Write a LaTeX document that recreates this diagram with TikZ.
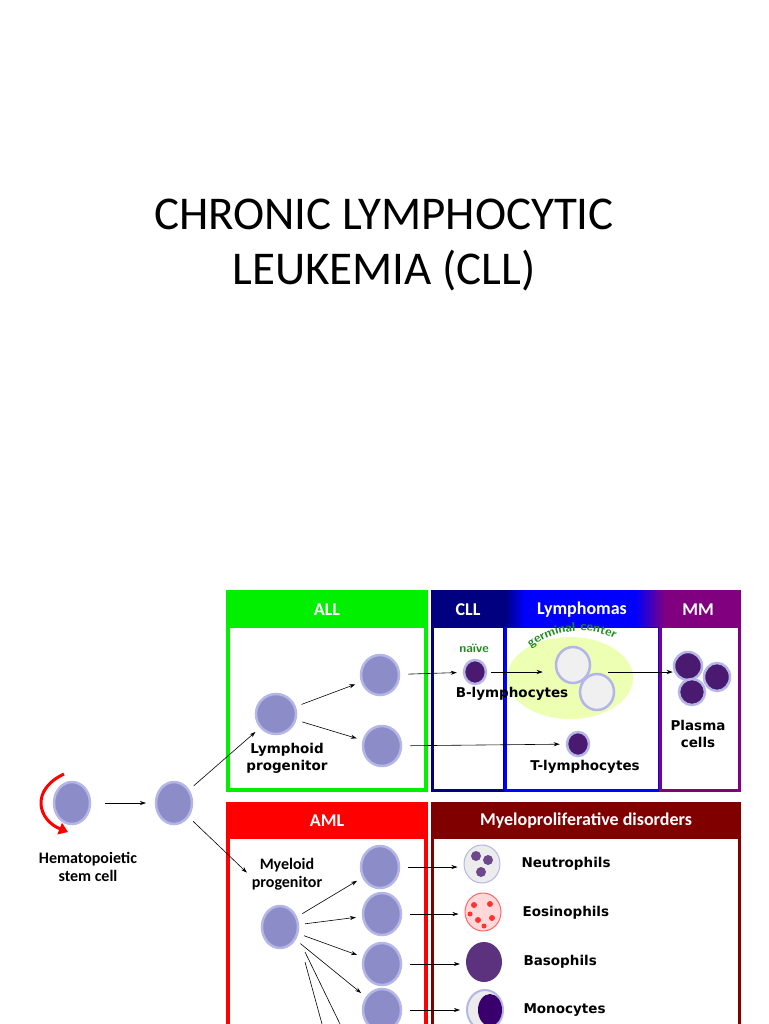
\documentclass[tikz,border=0pt]{standalone}
\usepackage{fontspec}
\setmainfont{Carlito}
\newfontfamily\lbl{DejaVu Sans}
\usetikzlibrary{shapes.geometric,arrows.meta,decorations.text}
\definecolor{cellin}{HTML}{8C8CC8}
\definecolor{celledge}{HTML}{B4B6E8}
\definecolor{dark}{HTML}{4A1A70}
\definecolor{navy}{HTML}{000080}
\definecolor{blu}{HTML}{0000FF}
\definecolor{purp}{HTML}{800080}
\definecolor{grn}{HTML}{00F000}
\definecolor{maroon}{HTML}{800000}
\definecolor{gcg}{HTML}{1E8C1E}
\begin{document}
\begin{tikzpicture}[x=1pt,y=-1pt,
 cell/.style={ellipse,draw=celledge,line width=2.5pt,fill=cellin,inner sep=0pt},
 dcell/.style={ellipse,draw=celledge,line width=2.5pt,fill=dark,inner sep=0pt},
 arr/.style={-{Stealth[length=6pt,width=4pt]},line width=0.6pt},
 hdr/.style={text=white,font=\bfseries\fontsize{18}{20}\selectfont},
 lb/.style={font=\bfseries\fontsize{16}{18}\selectfont,align=center},
 lv/.style={font=\lbl\bfseries\fontsize{13.5}{17}\selectfont,align=center}]
\useasboundingbox (0,0) rectangle (768,1024);
\node[font=\fontsize{47}{55}\selectfont,align=center] (title) at (384,245) {CHRONIC LYMPHOCYTIC\\LEUKEMIA (CLL)};
% ALL box
\fill[grn] (226,590) rectangle (428,792);
\fill[white] (230,628) rectangle (424,788);
\node[hdr] (hALL) at (327,610) {ALL};
% CLL / Lymphomas / MM
\fill[navy] (431,590) rectangle (505,627);
\shade[left color=navy,right color=blu] (505,590) rectangle (525,627);
\fill[blu] (525,590) rectangle (635,627);
\shade[left color=blu,right color=purp] (635,590) rectangle (665,627);
\fill[purp] (665,590) rectangle (741,627);
\fill[navy] (431,627) rectangle (506,792);
\fill[blu] (504,627) rectangle (662,792);
\fill[purp] (659,627) rectangle (741,792);
\fill[white] (434,628) rectangle (503,789);
\fill[white] (507,628) rectangle (658,789);
\fill[white] (662,628) rectangle (738,789);
\node[hdr] (hCLL) at (468,610) {CLL};
\node[hdr] (hLy) at (582,610) {Lymphomas};
\node[hdr] (hMM) at (698,610) {MM};
% AML
\fill[red] (226,802) rectangle (428,1030);
\fill[white] (230,839) rectangle (424,1030);
\node[hdr] (hAML) at (327,821) {AML};
\fill[maroon] (431,802) rectangle (741,1030);
\fill[white] (434,839) rectangle (738,1030);
\node[hdr] (hMP) at (586,821) {Myeloproliferative disorders};
% germinal center
\node[ellipse,fill=green!25!yellow!30,minimum width=126,minimum height=82] (gc) at (570,678) {};
\path[decorate,decoration={text along path,text align=center,text={|\sffamily\bfseries\fontsize{12.5}{13}\selectfont\color{gcg}|germinal center}}] (526,652) .. controls (552,628) and (592,624) .. (620,642);
% cells
\node[cell,minimum width=36,minimum height=42] (stem) at (72,803) {};
\node[cell,minimum width=36,minimum height=42] (c2) at (174,803) {};
\node[cell,minimum width=40,minimum height=40] (lp) at (276,714) {};
\node[cell,minimum width=38,minimum height=40] (a1) at (380,675) {};
\node[cell,minimum width=38,minimum height=40] (a2) at (382,746) {};
\node[dcell,minimum width=22,minimum height=24] (nv) at (475,672) {};
\node[ellipse,draw=celledge,line width=2.5pt,fill=gray!12,minimum width=34,minimum height=36] (g1) at (573,665) {};
\node[ellipse,draw=celledge,line width=2.5pt,fill=gray!12,minimum width=34,minimum height=36] (g2) at (597,692) {};
\node[dcell,minimum width=22,minimum height=24] (tl) at (578,744) {};
\node[dcell,minimum width=28,minimum height=28] (p1) at (688,666) {};
\node[dcell,minimum width=26,minimum height=28] (p2) at (717,677) {};
\node[dcell,minimum width=26,minimum height=26] (p3) at (692,692) {};
\node[cell,minimum width=36,minimum height=42] (mp) at (280,927) {};
\node[cell,minimum width=38,minimum height=42] (m1) at (380,867) {};
\node[cell,minimum width=38,minimum height=42] (m2) at (382,914) {};
\node[cell,minimum width=38,minimum height=42] (m3) at (382,964) {};
\node[cell,minimum width=38,minimum height=42] (m4) at (382,1010) {};
\node[ellipse,draw=celledge,line width=1pt,fill=gray!15,minimum width=36,minimum height=38] (neu) at (482,864) {};
\fill[dark!80] (476,856) circle (5) (488,860) circle (5) (481,872) circle (5);
\node[ellipse,draw=red!60,line width=1pt,fill=pink!60,minimum width=36,minimum height=38] (eos) at (483,912) {};
\fill[red!80] (474,905) circle (3) (490,904) circle (3) (478,920) circle (3) (492,918) circle (3) (484,926) circle (2.5) (470,914) circle (2.5);
\node[ellipse,fill=dark!90,minimum width=36,minimum height=40] (bas) at (484,962) {};
\node[ellipse,draw=celledge,line width=2pt,fill=gray!15,minimum width=36,minimum height=40] (mono) at (485,1010) {};
\fill[navy!70!purple] (490,1010) ellipse (12 and 16);
% labels
\node[lb] (tstem) at (88,867) {Hematopoietic\\stem cell};
\node[lv] (tlp) at (287,758) {Lymphoid\\progenitor};
\node[lb] (tmp) at (287,874) {Myeloid\\progenitor};
\node[text=gcg,font=\sffamily\bfseries\fontsize{12.5}{13}\selectfont] (tnv) at (474,648) {naïve};
\node[lv] (tb) at (512,694) {B-lymphocytes};
\node[lv] (tt) at (585,767) {T-lymphocytes};
\node[lv] (tpc) at (698,734) {Plasma\\cells};
\node[lv,anchor=west] (tn) at (518,864) {Neutrophils};
\node[lv,anchor=west] (te) at (519,913) {Eosinophils};
\node[lv,anchor=west] (tba) at (520,962) {Basophils};
\node[lv,anchor=west] (tm) at (520,1010) {Monocytes};
% arrows
\draw[red,line width=3pt,-{Triangle[length=9pt,width=12pt]}] (64,774) .. controls (30,790) and (38,820) .. (68,832);
\draw[arr] (stem) ++(33,0) -- ([xshift=-28]c2.center);
\draw[arr,shorten <=6pt,shorten >=6pt] (c2) -- (lp);
\draw[arr,shorten <=6pt,shorten >=2pt] (c2) -- (tmp.west);
\draw[arr,shorten <=6pt,shorten >=6pt] (lp) -- (a1);
\draw[arr,shorten <=6pt,shorten >=6pt] (lp) -- (a2);
\draw[arr,shorten <=8pt,shorten >=6pt] (a1) -- (nv);
\draw[arr,shorten <=4pt,shorten >=12pt] (nv) -- (g1.west|-nv);
\draw[arr] (608,672) -- (p1.west|-nv);
\draw[arr,shorten <=8pt,shorten >=6pt] (a2) -- (tl);
\foreach \m in {m1,m2,m3,m4}{\draw[arr,shorten <=6pt,shorten >=6pt] (mp) -- (\m);}
\draw[line width=0.6pt] (305,952) -- (340,1024);
\draw[line width=0.6pt] (305,962) -- (322,1024);
\draw[arr,shorten <=8pt,shorten >=6pt] (m1) -- (neu.west|-m1);
\draw[arr,shorten <=8pt,shorten >=6pt] (m2) -- (eos.west|-m2);
\draw[arr,shorten <=8pt,shorten >=6pt] (m3) -- (bas.west|-m3);
\draw[arr,shorten <=8pt,shorten >=6pt] (m4) -- (mono.west|-m4);
\end{tikzpicture}
\end{document}
